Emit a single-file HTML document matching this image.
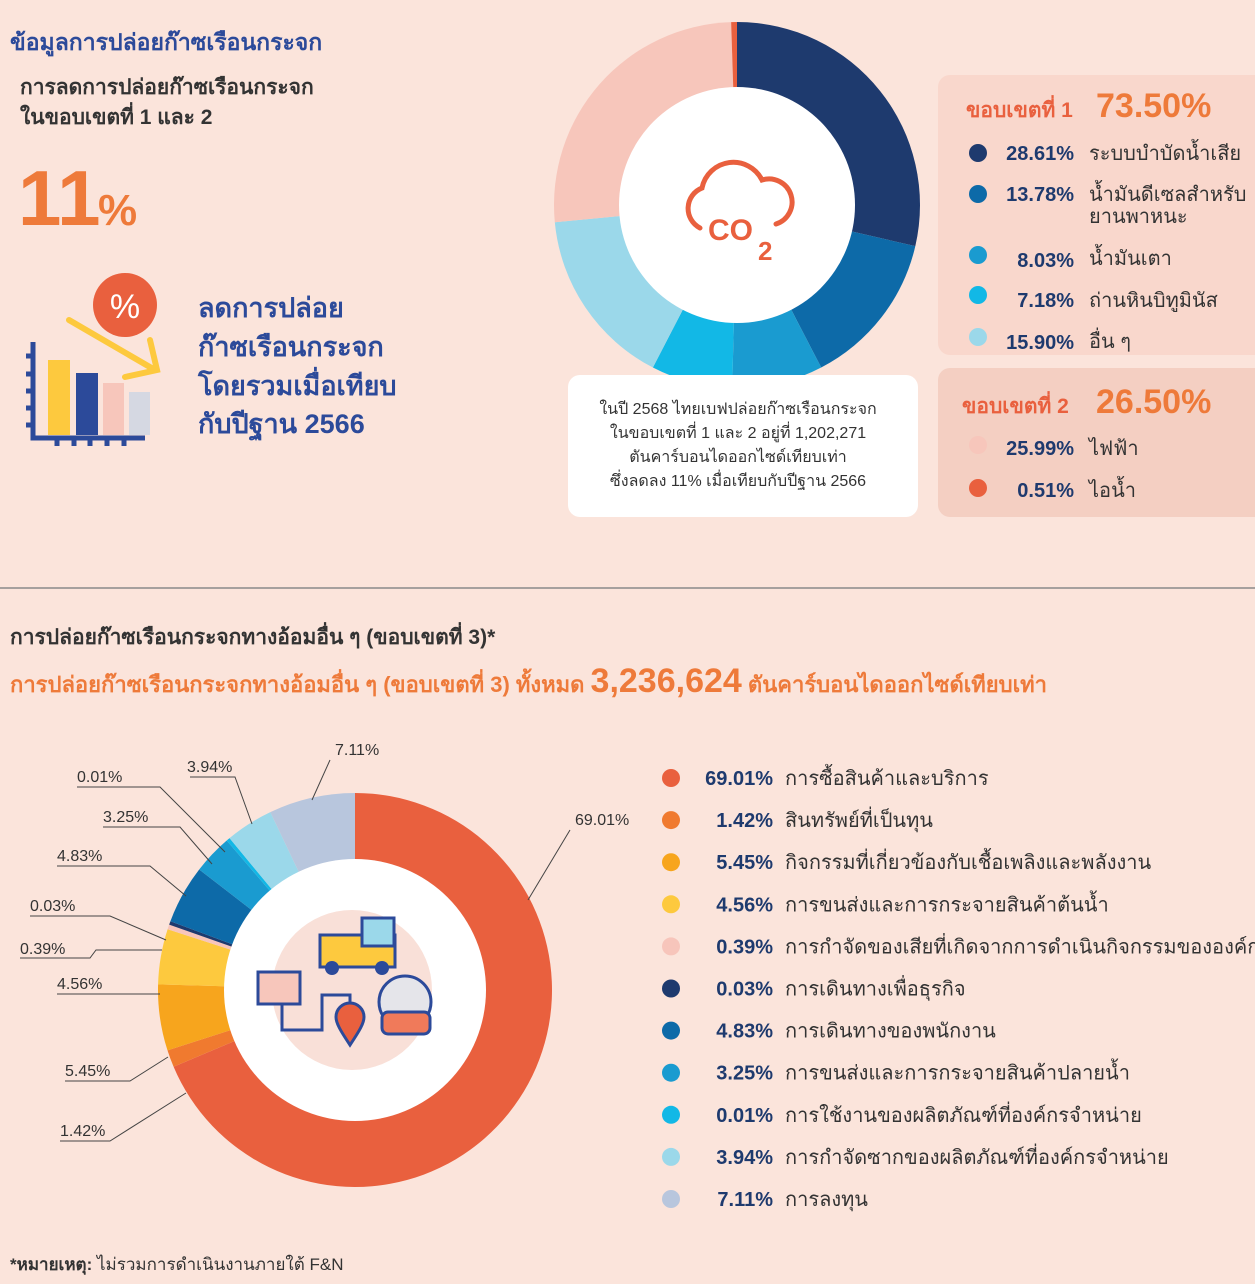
<!DOCTYPE html>
<html><head><meta charset="utf-8"><style>
body{margin:0;background:#fbe4db;}
svg{display:block;font-family:"Liberation Sans",sans-serif;}
</style></head><body>
<svg id="s" width="1255" height="1284" viewBox="0 0 1255 1284" xmlns="http://www.w3.org/2000/svg">
<rect width="1255" height="1284" fill="#fbe4db"/>
<g id="d1"></g>
<circle cx="737" cy="205" r="118" fill="#fff"/>
<g fill="none" stroke="#e9603e" stroke-width="5" stroke-linecap="round">
<path d="M700 228 a22 22 0 0 1 2 -40 a32 32 0 0 1 60 -8 a22 22 0 0 1 14 44"/>
</g>
<text x="708" y="240" font-size="30" font-weight="bold" fill="#e9603e">CO</text>
<text x="758" y="260" font-size="26" font-weight="bold" fill="#e9603e">2</text>
<rect x="568" y="375" width="350" height="142" rx="12" fill="#fff"/>
<g font-size="16" fill="#333" text-anchor="middle">
<text x="738" y="414">ในปี 2568 ไทยเบฟปล่อยก๊าซเรือนกระจก</text>
<text x="738" y="438">ในขอบเขตที่ 1 และ 2 อยู่ที่ 1,202,271</text>
<text x="738" y="462">ตันคาร์บอนไดออกไซด์เทียบเท่า</text>
<text x="738" y="486">ซึ่งลดลง 11% เมื่อเทียบกับปีฐาน 2566</text>
</g>
<rect x="938" y="75" width="330" height="280" rx="12" fill="#f9d7cc"/>
<rect x="938" y="368" width="330" height="149" rx="12" fill="#f4cfc2"/>
<text x="966" y="117" font-size="21" font-weight="bold" fill="#e9603e">ขอบเขตที่ 1</text>
<text x="1096" y="117" font-size="34" font-weight="bold" fill="#ee7a3a">73.50%</text>
<g font-size="20">
<circle cx="978" cy="153" r="9" fill="#1e3a6e"/><text x="1074" y="160" text-anchor="end" font-weight="bold" fill="#1e3a6e">28.61%</text><text x="1089" y="160" fill="#333">ระบบบำบัดน้ำเสีย</text>
<circle cx="978" cy="194" r="9" fill="#0d6aa8"/><text x="1074" y="201" text-anchor="end" font-weight="bold" fill="#1e3a6e">13.78%</text><text x="1089" y="201" fill="#333">น้ำมันดีเซลสำหรับ</text><text x="1089" y="223" fill="#333">ยานพาหนะ</text>
<circle cx="978" cy="255" r="9" fill="#1a9bd0"/><text x="1074" y="267" text-anchor="end" font-weight="bold" fill="#1e3a6e">8.03%</text><text x="1089" y="265" fill="#333">น้ำมันเตา</text>
<circle cx="978" cy="295" r="9" fill="#12b8e6"/><text x="1074" y="307" text-anchor="end" font-weight="bold" fill="#1e3a6e">7.18%</text><text x="1089" y="307" fill="#333">ถ่านหินบิทูมินัส</text>
<circle cx="978" cy="337" r="9" fill="#9bd8ea"/><text x="1074" y="349" text-anchor="end" font-weight="bold" fill="#1e3a6e">15.90%</text><text x="1089" y="348" fill="#333">อื่น ๆ</text>
</g>
<text x="962" y="413" font-size="21" font-weight="bold" fill="#e9603e">ขอบเขตที่ 2</text>
<text x="1096" y="413" font-size="34" font-weight="bold" fill="#ee7a3a">26.50%</text>
<g font-size="20">
<circle cx="978" cy="445" r="9" fill="#f7c6bb"/><text x="1074" y="455" text-anchor="end" font-weight="bold" fill="#1e3a6e">25.99%</text><text x="1089" y="455" fill="#333">ไฟฟ้า</text>
<circle cx="978" cy="488" r="9" fill="#e9603e"/><text x="1074" y="497" text-anchor="end" font-weight="bold" fill="#1e3a6e">0.51%</text><text x="1089" y="497" fill="#333">ไอน้ำ</text>
</g>
<text x="10" y="50" font-size="23" font-weight="bold" fill="#2c4a9a">ข้อมูลการปล่อยก๊าซเรือนกระจก</text>
<text x="20" y="94" font-size="21" font-weight="bold" fill="#333">การลดการปล่อยก๊าซเรือนกระจก</text>
<text x="20" y="124" font-size="21" font-weight="bold" fill="#333">ในขอบเขตที่ 1 และ 2</text>
<text x="18" y="225" font-size="78" font-weight="bold" fill="#ee7a3a">11</text>
<text x="98" y="225" font-size="44" font-weight="bold" fill="#ee7a3a">%</text>
<g>
<path d="M33 342 V438 H145" stroke="#2c4a9a" stroke-width="5" fill="none"/>
<g stroke="#2c4a9a" stroke-width="5"><path d="M26 356h8M26 374h8M26 391h8M26 408h8M26 425h8M57 438v8M74 438v8M90 438v8M107 438v8M124 438v8"/></g>
<rect x="48" y="360" width="22" height="75" fill="#fdc93e"/>
<rect x="76" y="373" width="22" height="62" fill="#2c4a9a"/>
<rect x="103" y="383" width="21" height="52" fill="#f7c6bb"/>
<rect x="129" y="392" width="21" height="43" fill="#d5d8e2"/>
<path d="M69 320 L155 370 M125 377 L157 370 L150 340" stroke="#fdc93e" stroke-width="6" fill="none" stroke-linecap="round"/>
<circle cx="125" cy="305" r="32" fill="#e9603e"/>
<text x="125" y="318" font-size="34" fill="#fff" text-anchor="middle">%</text>
</g>
<g font-size="27" font-weight="bold" fill="#2c4a9a">
<text x="198" y="317">ลดการปล่อย</text>
<text x="198" y="356">ก๊าซเรือนกระจก</text>
<text x="198" y="395">โดยรวมเมื่อเทียบ</text>
<text x="198" y="433">กับปีฐาน 2566</text>
</g>
<line x1="0" y1="588" x2="1255" y2="588" stroke="#8a8a8a" stroke-width="1.5"/>
<text x="10" y="644" font-size="21" font-weight="bold" fill="#333">การปล่อยก๊าซเรือนกระจกทางอ้อมอื่น ๆ (ขอบเขตที่ 3)*</text>
<text x="10" y="692" font-size="22" font-weight="bold" fill="#ee7a3a">การปล่อยก๊าซเรือนกระจกทางอ้อมอื่น ๆ (ขอบเขตที่ 3) ทั้งหมด <tspan font-size="34">3,236,624</tspan> ตันคาร์บอนไดออกไซด์เทียบเท่า</text>
<g id="d2"></g>
<circle cx="355" cy="990" r="131" fill="#fff"/>
<circle cx="352" cy="990" r="80" fill="#f9e0d8"/>
<rect x="320" y="935" width="75" height="32" fill="#fdc93e" stroke="#2c4a9a" stroke-width="3"/>
<rect x="362" y="918" width="32" height="28" fill="#9bd8ea" stroke="#2c4a9a" stroke-width="3"/>
<circle cx="332" cy="968" r="7" fill="#2c4a9a"/><circle cx="382" cy="968" r="7" fill="#2c4a9a"/>
<rect x="258" y="972" width="42" height="32" fill="#f7c6bb" stroke="#2c4a9a" stroke-width="3"/>
<path d="M282 1005 v25 h40 v-35 h28 v50" stroke="#2c4a9a" stroke-width="3" fill="none"/>
<path d="M350 1045 c-10-15 -14-22 -14-28 a14 14 0 0 1 28 0 c0 6 -4 13 -14 28z" fill="#e9603e" stroke="#2c4a9a" stroke-width="3"/>
<circle cx="405" cy="1002" r="26" fill="#e5e5ea" stroke="#2c4a9a" stroke-width="3"/>
<rect x="382" y="1012" width="48" height="22" rx="6" fill="#f07a5a" stroke="#2c4a9a" stroke-width="3"/>
<g stroke="#444" stroke-width="1" fill="none">
<polyline points="570,830 528,900"/>
<polyline points="330,760 312,800"/>
<polyline points="190,777 235,777 252,824"/>
<polyline points="77,787 160,787 225,852"/>
<polyline points="103,827 180,827 212,864"/>
<polyline points="57,866 150,866 186,896"/>
<polyline points="30,916 110,916 166,940"/>
<polyline points="20,958 90,958 96,950 162,950"/>
<polyline points="57,994 160,994"/>
<polyline points="65,1081 130,1081 168,1057"/>
<polyline points="60,1141 110,1141 186,1093"/>
</g>
<g font-size="16" fill="#333">
<text x="575" y="825">69.01%</text><text x="335" y="755">7.11%</text><text x="187" y="772">3.94%</text>
<text x="77" y="782">0.01%</text><text x="103" y="822">3.25%</text><text x="57" y="861">4.83%</text>
<text x="30" y="911">0.03%</text><text x="20" y="954">0.39%</text><text x="57" y="989">4.56%</text>
<text x="65" y="1076">5.45%</text><text x="60" y="1136">1.42%</text>
</g>
<g id="leg" font-size="20"></g>
<text x="10" y="1270" font-size="17" fill="#333"><tspan font-weight="bold">*หมายเหตุ:</tspan> ไม่รวมการดำเนินงานภายใต้ F&amp;N</text>
</svg>
<script>
function donut(id,cx,cy,r,data){var g=document.getElementById(id),a=0,h='',t=0;
data.forEach(function(d){t+=d[0];});
data.forEach(function(d){var a2=a+d[0]/t*2*Math.PI;
var x1=cx+r*Math.sin(a),y1=cy-r*Math.cos(a),x2=cx+r*Math.sin(a2),y2=cy-r*Math.cos(a2);
h+='<path d="M'+cx+' '+cy+' L'+x1+' '+y1+' A'+r+' '+r+' 0 '+((a2-a)>Math.PI?1:0)+' 1 '+x2+' '+y2+'Z" fill="'+d[1]+'"/>';a=a2;});
g.innerHTML=h;}
donut('d1',737,205,183,[[28.61,'#1e3a6e'],[13.78,'#0d6aa8'],[8.03,'#1a9bd0'],[7.18,'#12b8e6'],[15.90,'#9bd8ea'],[25.99,'#f7c6bb'],[0.51,'#e9603e']]);
var D=[[69.01,'#e9603e','การซื้อสินค้าและบริการ'],[1.42,'#f07a2f','สินทรัพย์ที่เป็นทุน'],[5.45,'#f7a51d','กิจกรรมที่เกี่ยวข้องกับเชื้อเพลิงและพลังงาน'],[4.56,'#fdc93e','การขนส่งและการกระจายสินค้าต้นน้ำ'],[0.39,'#f7c5bb','การกำจัดของเสียที่เกิดจากการดำเนินกิจกรรมขององค์กร'],[0.03,'#1e3a6e','การเดินทางเพื่อธุรกิจ'],[4.83,'#0d6aa8','การเดินทางของพนักงาน'],[3.25,'#1a9bd0','การขนส่งและการกระจายสินค้าปลายน้ำ'],[0.01,'#12b8e6','การใช้งานของผลิตภัณฑ์ที่องค์กรจำหน่าย'],[3.94,'#9bd8ea','การกำจัดซากของผลิตภัณฑ์ที่องค์กรจำหน่าย'],[7.11,'#b8c6dd','การลงทุน']];
donut('d2',355,990,197,D.map(function(d){return [d[0]<0.2?0.3:d[0],d[1]]}));
var h='';D.forEach(function(d,i){var y=778+i*42.1;
h+='<circle cx="671" cy="'+y+'" r="9" fill="'+d[1]+'"/><text x="773" y="'+(y+7)+'" text-anchor="end" font-weight="bold" fill="#1e3a6e">'+d[0].toFixed(2)+'%</text><text x="785" y="'+(y+7)+'" fill="#333">'+d[2]+'</text>';});
document.getElementById('leg').innerHTML=h;
</script>
</body></html>
